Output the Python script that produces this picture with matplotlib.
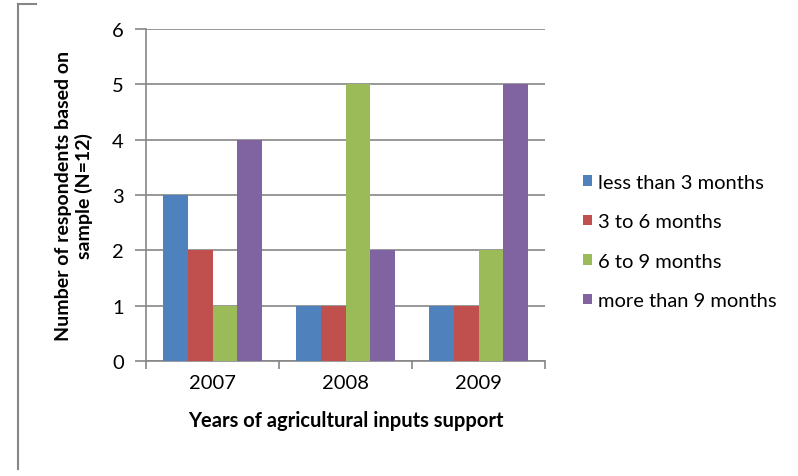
import matplotlib.pyplot as plt
import numpy as np
from matplotlib.lines import Line2D

plt.rcParams['font.family'] = ['Lato', 'DejaVu Sans']

years = ["2007", "2008", "2009"]
series = ["less than 3 months", "3 to 6 months", "6 to 9 months", "more than 9 months"]
less_3 = [3, 1, 1]
m3_6 = [2, 1, 1]
m6_9 = [1, 5, 2]
more_9 = [4, 2, 5]
colors = ["#4F81BD", "#C0504D", "#9BBB59", "#8064A2"]

fig = plt.figure(figsize=(7.98, 4.77), dpi=100)
ax = fig.add_axes([0.183, 0.241, 0.5, 0.696])

x = np.arange(len(years))
w = 0.1875
for i, vals in enumerate([less_3, m3_6, m6_9, more_9]):
    ax.bar(x + (i - 1.5) * w, vals, w, color=colors[i], label=series[i], zorder=3)

gray = "#868686"
ax.set_ylim(0, 6)
ax.set_xlim(-0.5, 2.5)
ax.set_yticks(range(7))
ax.yaxis.grid(True, color=gray, linewidth=1.2, zorder=0)
for s in ["top", "right"]:
    ax.spines[s].set_visible(False)
for s in ["left", "bottom"]:
    ax.spines[s].set_color(gray)
    ax.spines[s].set_linewidth(1.2)
ax.tick_params(axis="y", length=8, color=gray, width=1.2, labelsize=14.5, pad=8)
ax.set_xticks(x)
ax.set_xticklabels(years, fontsize=14.5)
ax.tick_params(axis="x", length=0, pad=9)
ax.set_xticks([-0.5, 0.5, 1.5, 2.5], minor=True)
ax.tick_params(axis="x", which="minor", length=6, color=gray, width=1.2)

ax.set_ylabel("Number of respondents based on\nsample (N=12)", fontsize=14,
              fontweight="bold", labelpad=14)
ax.set_xlabel("Years of agricultural inputs support", fontsize=14.5,
              fontweight="bold", labelpad=14)

ax.legend(loc="center left", bbox_to_anchor=(1.05, 0.36), frameon=False,
          fontsize=14.5, handlelength=0.42, handleheight=0.42, handletextpad=0.3,
          labelspacing=1.12)

fig.add_artist(Line2D([0.022, 0.022], [0.015, 0.99], color=gray, linewidth=1.5))
fig.add_artist(Line2D([0.022, 0.045], [0.99, 0.99], color=gray, linewidth=1.5))

fig.savefig("out.png", dpi=100)
